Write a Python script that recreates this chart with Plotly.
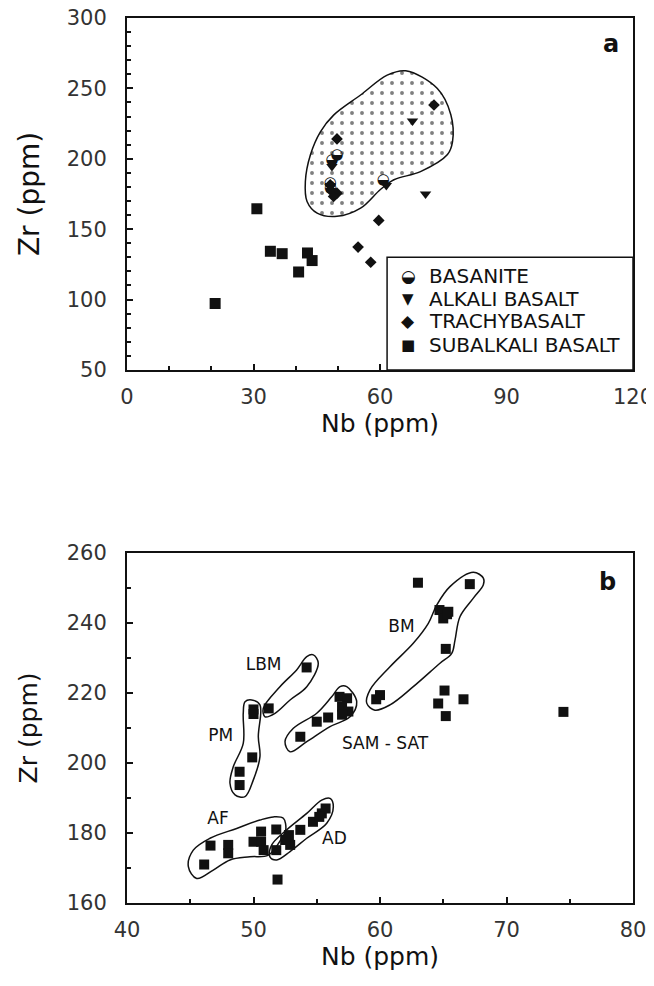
import plotly.graph_objects as go

# ---------------- Panel a data ----------------
bas_nb = [49.8, 48.6, 48.2, 48.3, 60.8]
bas_zr = [202.7, 199.2, 182.7, 179.0, 185.1]

alk_nb = [67.7, 70.8, 48.6, 61.5]
alk_zr = [226.8, 174.9, 194.5, 181.0]

tra_nb = [59.7, 54.8, 57.8, 72.8, 49.8, 48.6, 49.8, 49.0, 48.2]
tra_zr = [156.2, 137.3, 126.5, 238.2, 214.1, 176.8, 175.6, 173.2, 181.5]

sub_nb = [20.9, 30.8, 34.0, 36.8, 42.8, 43.9, 40.7]
sub_zr = [97.2, 164.5, 134.3, 132.6, 133.1, 127.7, 119.6]

field_nb = [66.1, 73.6, 76.8, 77.2, 76.0, 69.6, 63.3, 60.1, 55.4, 49.8, 45.1,
            42.7, 42.3, 43.5, 45.9, 49.0, 55.4, 61.7, 66.1]
field_zr = [262.5, 249.9, 231.3, 212.2, 203.0, 190.9, 185.1, 178.2, 164.9, 159.1,
            161.4, 169.7, 183.9, 202.8, 219.3, 231.0, 245.3, 259.4, 262.5]

legend_labels = ["BASANITE", "ALKALI BASALT", "TRACHYBASALT", "SUBALKALI BASALT"]
legend_glyphs = ["◒", "▼", "◆", "■"]

# ---------------- Panel b data ----------------
b_nb = [63.0, 67.1, 64.7, 65.4, 65.0, 65.3, 65.2, 60.0, 59.7, 65.1, 64.6, 66.6, 65.2, 74.5,
        54.2, 51.2, 50.0, 50.0, 49.9, 48.9, 48.9,
        53.7, 55.0, 55.9, 56.8, 57.4, 57.0, 57.5, 57.0,
        46.6, 46.1, 48.0, 48.0, 50.0, 50.6, 50.6, 50.8, 51.8, 51.8, 51.9,
        52.8, 52.9, 53.7, 54.7, 55.4, 55.7, 55.2, 52.5]
b_zr = [251.5, 251.1, 243.7, 243.2, 241.3, 242.5, 232.6, 219.4, 218.2, 220.7, 217.0, 218.2, 213.4, 214.6,
        227.3, 215.6, 215.3, 214.0, 201.6, 197.5, 193.7,
        207.5, 211.8, 213.0, 218.9, 218.5, 216.1, 214.7, 213.8,
        176.4, 171.0, 176.6, 174.2, 177.5, 180.4, 177.5, 175.1, 181.0, 175.1, 166.7,
        179.4, 176.6, 180.9, 183.2, 185.6, 187.0, 184.6, 178.0]

bm_nb = [68.17, 67.38, 65.53, 64.48, 63.82, 62.63, 60.79, 59.21, 58.95, 59.6, 60.79, 62.63,
         64.74, 65.67, 65.93, 66.32, 67.38, 68.17, 68.17]
bm_zr = [252.8, 254.5, 250.4, 245.1, 239.9, 234.2, 227.5, 220.9, 217.1, 215.1, 216.6, 221.8,
         228.5, 231.3, 235.1, 241.8, 247.1, 250.9, 252.8]

lbm_nb = [54.73, 55.12, 54.21, 52.89, 51.70, 50.91, 50.77, 52.09, 53.41, 54.21, 54.73]
lbm_zr = [230.9, 228.5, 221.8, 218.0, 214.2, 213.2, 215.6, 221.8, 226.6, 230.4, 230.9]

pm_nb = [49.86, 50.51, 50.38, 50.51, 49.98, 49.33, 48.54, 48.14, 48.40, 49.19, 49.19, 49.33, 49.86]
pm_zr = [218.0, 216.6, 207.5, 201.8, 195.1, 190.4, 190.9, 194.2, 198.9, 205.6, 214.2, 217.5, 218.0]

sam_nb = [57.37, 58.16, 57.63, 56.05, 54.21, 52.89, 52.49, 53.15, 55.0, 56.18, 56.84, 57.37]
sam_zr = [221.8, 217.5, 213.2, 210.4, 206.1, 203.2, 206.1, 209.9, 214.2, 218.9, 221.8, 221.8]

af_nb = [52.36, 52.55, 52.23, 51.17, 49.72, 48.14, 46.82, 45.51, 44.85, 45.24, 46.56, 48.67,
         50.51, 51.57, 52.36]
af_zr = [184.2, 180.9, 178.5, 173.7, 173.2, 172.3, 169.4, 167.0, 170.4, 175.1, 178.5, 181.3,
         183.7, 184.6, 184.2]

ad_nb = [56.05, 56.31, 55.79, 54.21, 52.89, 51.83, 51.30, 51.44, 52.62, 54.21, 55.39, 56.05]
ad_zr = [189.9, 187.5, 182.8, 178.5, 174.7, 172.3, 173.2, 176.6, 180.9, 185.6, 189.4, 189.9]

group_names = ["BM", "LBM", "PM", "SAM - SAT", "AF", "AD"]
group_lab_nb = [61.7, 50.8, 47.4, 60.4, 47.2, 56.4]
group_lab_zr = [238.5, 227.8, 207.5, 205.1, 183.7, 178.0]

FONT = "DejaVu Sans"
INK = "#111111"

fig = go.Figure()

# ----- panel a -----
fig.add_trace(go.Scatter(
    x=field_nb, y=field_zr, mode="lines", fill="toself",
    line=dict(color=INK, width=1.5, shape="spline", smoothing=1.0),
    fillcolor="white",
    fillpattern=dict(shape=".", size=10, solidity=0.12, fgcolor="#000000", bgcolor="white"),
    xaxis="x", yaxis="y", showlegend=False, hoverinfo="skip"))

fig.add_trace(go.Scatter(x=sub_nb, y=sub_zr, mode="markers",
                         marker=dict(symbol="square", size=11, color=INK),
                         xaxis="x", yaxis="y", showlegend=False))
fig.add_trace(go.Scatter(x=tra_nb, y=tra_zr, mode="markers",
                         marker=dict(symbol="diamond", size=9, color=INK),
                         xaxis="x", yaxis="y", showlegend=False))
fig.add_trace(go.Scatter(x=alk_nb, y=alk_zr, mode="markers",
                         marker=dict(symbol="triangle-down", size=10, color=INK),
                         xaxis="x", yaxis="y", showlegend=False))
fig.add_trace(go.Scatter(x=bas_nb, y=bas_zr, mode="text", text=["◒"] * len(bas_nb),
                         textfont=dict(family=FONT, size=15, color=INK),
                         textposition="middle center",
                         xaxis="x", yaxis="y", showlegend=False))

# ----- panel b -----
for gx, gy in [(bm_nb, bm_zr), (lbm_nb, lbm_zr), (pm_nb, pm_zr),
               (sam_nb, sam_zr), (af_nb, af_zr), (ad_nb, ad_zr)]:
    fig.add_trace(go.Scatter(x=gx, y=gy, mode="lines",
                             line=dict(color=INK, width=1.5, shape="spline", smoothing=1.0),
                             xaxis="x2", yaxis="y2", showlegend=False, hoverinfo="skip"))

fig.add_trace(go.Scatter(x=b_nb, y=b_zr, mode="markers",
                         marker=dict(symbol="square", size=10, color=INK),
                         xaxis="x2", yaxis="y2", showlegend=False))

fig.add_trace(go.Scatter(x=group_lab_nb, y=group_lab_zr, mode="text", text=group_names,
                         textfont=dict(family=FONT, size=17, color=INK),
                         xaxis="x2", yaxis="y2", showlegend=False))

axis_common = dict(
    showline=True, linecolor=INK, linewidth=2, mirror=True,
    ticks="inside", ticklen=6, tickwidth=1.5, tickcolor=INK,
    showgrid=False, zeroline=False, automargin=False,
    ticklabeloverflow="allow",
    tickfont=dict(family=FONT, size=21, color="#333333"),
)

# The page body adds an 8 px offset, so the figure is 8 px smaller with 8 px less left/top margin.
fig.update_layout(
    width=646, height=978,
    margin=dict(l=119, r=21, t=10, b=83),
    paper_bgcolor="white", plot_bgcolor="white",
    showlegend=False,
    xaxis=dict(**axis_common, domain=[0, 1], range=[0, 120], tickvals=[0, 30, 60, 90, 120],
               ticklabelstandoff=7,
               minor=dict(tickvals=list(range(10, 120, 10)), ticklen=4, tickcolor=INK, ticks="inside"),
               anchor="y",
               title=dict(text="Nb (ppm)", font=dict(family=FONT, size=25, color=INK), standoff=3)),
    yaxis=dict(**axis_common, domain=[0.6023, 1.0], range=[50, 300], tickvals=[50, 100, 150, 200, 250, 300],
               ticklabelstandoff=14,
               minor=dict(tickvals=list(range(60, 300, 10)), ticklen=4, tickcolor=INK, ticks="inside"),
               anchor="x",
               title=dict(text="Zr (ppm)", font=dict(family=FONT, size=28, color=INK), standoff=19)),
    xaxis2=dict(**axis_common, domain=[0, 1], range=[40, 80], tickvals=[40, 50, 60, 70, 80],
                ticklabelstandoff=7,
                minor=dict(tickvals=[45, 55, 65, 75], ticklen=4, tickcolor=INK, ticks="inside"),
                anchor="y2",
                title=dict(text="Nb (ppm)", font=dict(family=FONT, size=25, color=INK), standoff=5)),
    yaxis2=dict(**axis_common, domain=[0, 0.3955], range=[160, 260], tickvals=[160, 180, 200, 220, 240, 260],
                ticklabelstandoff=14,
                minor=dict(tickvals=[170, 190, 210, 230, 250], ticklen=4, tickcolor=INK, ticks="inside"),
                anchor="x2",
                title=dict(text="Zr (ppm)", font=dict(family=FONT, size=25, color=INK), standoff=22)),
)

# Legend box (panel a)
fig.add_shape(type="rect", xref="x domain", yref="y domain", x0=0.514, x1=1.0, y0=0.0, y1=0.32,
              line=dict(color=INK, width=1.5), fillcolor="white", layer="above")

legend_y = [0.268, 0.203, 0.138, 0.071]
glyph_sizes = [17, 15, 17, 15]
for lab, gl, yy, gs in zip(legend_labels, legend_glyphs, legend_y, glyph_sizes):
    fig.add_annotation(xref="x domain", yref="y domain", x=0.556, y=yy, text=gl, showarrow=False,
                       xanchor="center", yanchor="middle", font=dict(family=FONT, size=gs, color=INK))
    fig.add_annotation(xref="x domain", yref="y domain", x=0.592, y=yy, text=lab, showarrow=False,
                       xanchor="left", yanchor="middle", font=dict(family=FONT, size=20, color=INK))

# Panel labels
fig.add_annotation(xref="x domain", yref="y domain", x=0.956, y=0.927, text="<b>a</b>", showarrow=False,
                   xanchor="center", yanchor="middle", font=dict(family=FONT, size=24, color=INK))
fig.add_annotation(xref="x2 domain", yref="y2 domain", x=0.949, y=0.917, text="<b>b</b>", showarrow=False,
                   xanchor="center", yanchor="middle", font=dict(family=FONT, size=24, color=INK))

fig.write_html("out.html")
